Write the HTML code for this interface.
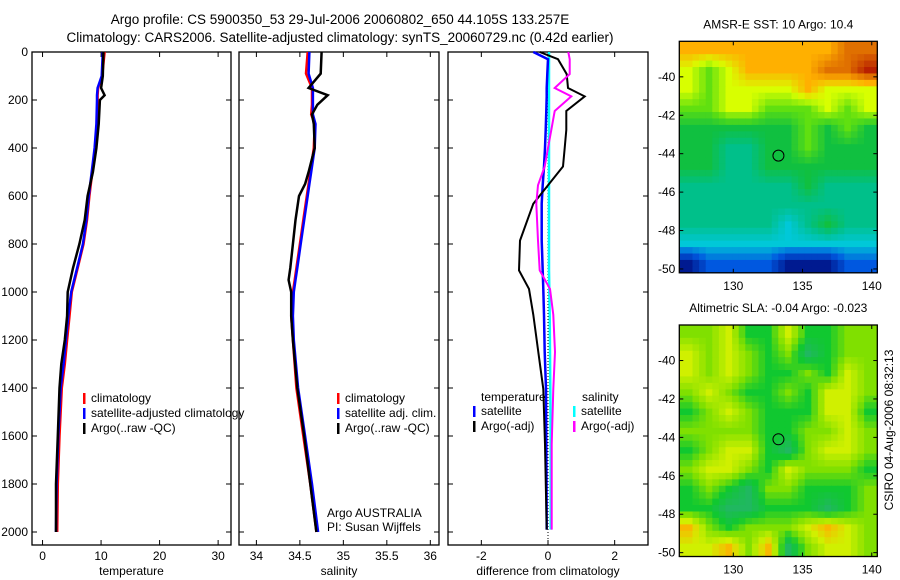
<!DOCTYPE html>
<html><head><meta charset="utf-8"><style>
body{margin:0;background:#fff;}
svg{display:block;font-family:"Liberation Sans",sans-serif;}
</style></head><body>
<svg id="fig" width="900" height="580" viewBox="0 0 900 580">
<text x="340" y="24" font-size="13.5" text-anchor="middle">Argo profile: CS 5900350_53 29-Jul-2006 20060802_650 44.105S 133.257E</text>
<text x="340" y="42" font-size="13.5" text-anchor="middle">Climatology: CARS2006. Satellite-adjusted climatology: synTS_20060729.nc (0.42d earlier)</text>
<g id="plots"></g>
</svg>
<script>
const NS="http://www.w3.org/2000/svg";
const svg=document.getElementById('plots');
// ---- data ----
const tDepth=[0,100,150,180,200,300,400,500,600,700,800,900,1000,1100,1200,1300,1400,1600,1800,2000];
const tArgo=[10.4,10.3,10.0,10.6,9.8,9.6,9.2,8.6,7.7,7.2,6.3,5.2,4.3,4.2,3.8,3.2,2.9,2.6,2.3,2.3];
const tClim=[10.6,10.2,9.5,9.4,9.4,9.3,9.0,8.5,8.0,7.6,7.0,6.0,5.0,4.6,4.2,3.8,3.3,2.9,2.6,2.5];
const tSat=[10.3,10.1,9.4,9.3,9.3,9.2,8.9,8.4,7.9,7.5,6.9,5.9,4.9,4.4,4.0,3.6,3.1,2.7,2.4,2.3];
const sDepth=[0,90,150,180,220,260,300,400,500,550,600,700,800,900,950,1000,1100,1200,1400,1600,1800,2000];
const sArgo=[34.75,34.74,34.6,34.82,34.7,34.64,34.66,34.67,34.6,34.56,34.49,34.45,34.42,34.39,34.37,34.40,34.40,34.42,34.47,34.55,34.62,34.69];
const sClim=[34.59,34.57,34.64,34.64,34.64,34.63,34.67,34.66,34.62,34.6,34.58,34.54,34.5,34.46,34.44,34.42,34.40,34.42,34.46,34.54,34.62,34.69];
const sSat=[34.61,34.60,34.65,34.65,34.65,34.65,34.68,34.67,34.63,34.61,34.59,34.55,34.51,34.47,34.45,34.43,34.42,34.43,34.48,34.56,34.64,34.71];
const dDepth=[0,30,92,150,185,246,325,400,477,555,632,786,910,987,1095,1250,1404,1635,1990];
const dTArgo=[-0.25,0.3,0.56,0.6,1.1,0.55,0.55,0.5,0.45,0,-0.44,-0.84,-0.87,-0.57,-0.44,-0.29,-0.14,-0.09,-0.04];
const dSArgo=[0.61,0.65,0.65,0.2,0.7,0.2,0.1,0,-0.1,-0.3,-0.35,-0.3,-0.25,0.06,0.16,0.21,0.16,0.11,0.11];
const dTSat=[-0.44,0,-0.02,-0.04,-0.04,-0.05,-0.07,-0.09,-0.12,-0.16,-0.19,-0.19,-0.16,-0.14,-0.12,-0.1,-0.06,-0.05,-0.04];
const dSSat=[0.03,0.03,0.03,0.03,0.03,0.03,0.03,0.03,0.03,0.03,0.03,0.03,0.03,0.04,0.05,0.06,0.07,0.08,0.08];
const depthTicks=[0,200,400,600,800,1000,1200,1400,1600,1800,2000];
const tTicks=[0,10,20,30];
const sTicks=[34,34.5,35,35.5,36];
const sTickLabels=['34','34.5','35','35.5','36'];
const dTicks=[-2,0,2];
const sst=[
[7,7,7,7,7,7,7,7,8,8],
[6,5,6,7,7,7,7,8,8,9],
[6,5,6,6,6,6,7,6,6,6],
[5,5,6,6,5,5,5,6,5,6],
[4,4,4,4,4,4,5,4,5,4],
[4,4,3,3,4,4,5,4,4,4],
[4,4,3,3,4,4,4,4,4,4],
[3,3,3,3,3,3,4,3,3,3],
[3,3,3,3,3,3,3,3,3,3],
[3,3,3,3,3,2,3,4,3,3],
[2,2,2,2,2,2,2,2,2,2],
[0,1,1,1,1,0,0,0,1,1]];
const sla=[
[5,5,6,4,4,6,4,4,5,5],
[6,5,6,5,4,5,3,4,5,5],
[6,5,6,5,4,4,5,4,6,5],
[5,6,5,4,4,5,4,6,6,5],
[4,5,6,5,4,4,4,6,6,4],
[5,5,5,5,4,4,5,5,6,5],
[4,5,6,6,4,3,5,6,6,5],
[5,6,6,5,4,6,5,5,5,4],
[4,5,4,3,5,5,4,4,4,5],
[4,4,3,3,4,4,4,3,4,5],
[7,5,4,5,5,5,6,7,6,5],
[6,6,7,5,7,3,5,6,6,5]];
const latTicks=[-40,-42,-44,-46,-48,-50];
const lonTicks=[130,135,140];
const floatLon=133.26, floatLat=-44.1;
const cmapSST=['#001a90','#0058e0','#00c8d8','#00c08a','#10c040','#60e010','#d8ff00','#ffb000','#e07000','#b82000'];
const cmapSLA=['#001a90','#0058e0','#00c8d8','#20b860','#10c830','#80e000','#d0f000','#f8b800','#e07000','#b82000'];

function el(tag,attrs,parent){const e=document.createElementNS(NS,tag);for(const k in attrs)e.setAttribute(k,attrs[k]);(parent||svg).appendChild(e);return e;}
function txt(x,y,s,size,anchor,parent){const t=el('text',{x:x,y:y,'font-size':size,'text-anchor':anchor||'start'},parent);t.textContent=s;return t;}

const Y0=52,Ybot=545;
function yDepth(d){return Y0+d*0.24;}

function panel(name,x0,x1,xmin,xmax,ticks,labels,xlabel,ylabels){
  const g=el('g',{});
  
  
  const sx=v=>x0+(v-xmin)/(xmax-xmin)*(x1-x0);
  el('rect',{x:x0,y:Y0,width:x1-x0,height:Ybot-Y0,fill:'none',stroke:'#000','stroke-width':1.3},g);
  ticks.forEach((t,i)=>{const x=sx(t);
    el('line',{x1:x,x2:x,y1:Ybot,y2:Ybot-5,stroke:'#000'},g);
    el('line',{x1:x,x2:x,y1:Y0,y2:Y0+5,stroke:'#000'},g);
    const l=txt(x,Ybot+15,labels[i],12,'middle',g);
    
    
  });
  depthTicks.forEach(d=>{const y=yDepth(d);
    el('line',{x1:x0,x2:x0+5,y1:y,y2:y,stroke:'#000'},g);
    el('line',{x1:x1,x2:x1-5,y1:y,y2:y,stroke:'#000'},g);
    if(ylabels){const l=txt(x0-4,y+4,String(d),12,'end',g);
      
      }
  });
  const xl=txt((x0+x1)/2,Ybot+30,xlabel,12,'middle',g);
  
  
  return {g,sx};
}
function line(p,depths,vals,color,name,w){
  const pts=depths.map((d,i)=>p.sx(vals[i]).toFixed(1)+','+yDepth(d).toFixed(1)).join(' ');
  const l=el('polyline',{points:pts,fill:'none',stroke:color,'stroke-width':w||2.5},p.g);
  
  
}
function legend(g,x,y,items){
  items.forEach((it,i)=>{
    el('rect',{x:x,y:y+i*15-9,width:2.5,height:11,fill:it[1]},g);
    const t=txt(x+8,y+i*15,it[0],12,'start',g);
    
    
  });
}
// temperature
const p1=panel('temperature-panel',32,231,-1.8,32.2,tTicks,tTicks.map(String),'temperature',true);
line(p1,tDepth,tClim,'#ff0000','temp-climatology-line');
line(p1,tDepth,tSat,'#0000ff','temp-satellite-line');
line(p1,tDepth,tArgo,'#000000','temp-argo-line');
legend(p1.g,83,402,[['climatology','#ff0000'],['satellite-adjusted climatology','#0000ff'],['Argo(..raw -QC)','#000']]);
// salinity
const p2=panel('salinity-panel',239,439,33.8,36.1,sTicks,sTickLabels,'salinity',false);
line(p2,sDepth,sClim,'#ff0000','sal-climatology-line');
line(p2,sDepth,sSat,'#0000ff','sal-satellite-line');
line(p2,sDepth,sArgo,'#000000','sal-argo-line');
legend(p2.g,337,402,[['climatology','#ff0000'],['satellite adj. clim.','#0000ff'],['Argo(..raw -QC)','#000']]);
txt(327,517,'Argo AUSTRALIA',12,'start',p2.g);
txt(327,531,'PI: Susan Wijffels',12,'start',p2.g);
// difference
const p3=panel('difference-panel',448,648,-3,3,dTicks,dTicks.map(String),'difference from climatology',false);
el('line',{x1:p3.sx(0),x2:p3.sx(0),y1:Y0,y2:Ybot,stroke:'#000','stroke-dasharray':'1,2'},p3.g);
line(p3,dDepth,dSSat,'#00ffff','sal-diff-satellite-line');
line(p3,dDepth,dTSat,'#0000ff','temp-diff-satellite-line');
line(p3,dDepth,dTArgo,'#000000','temp-diff-argo-line',2);
line(p3,dDepth,dSArgo,'#ff00ff','sal-diff-argo-line',2);
txt(481,401,'temperature',12,'start',p3.g);
txt(582,401,'salinity',12,'start',p3.g);
legend(p3.g,473,415,[['satellite','#0000ff'],['Argo(-adj)','#000']]);
legend(p3.g,573,415,[['satellite','#00ffff'],['Argo(-adj)','#ff00ff']]);

// maps
function hex(c){return [1,3,5].map(i=>parseInt(c.substr(i,2),16));}
function colorAt(cmap,v){
  const a=Math.max(0,Math.min(cmap.length-1,Math.floor(v))),b=Math.min(cmap.length-1,a+1),f=v-a;
  const ca=hex(cmap[a]),cb=hex(cmap[b]);
  return 'rgb('+ca.map((x,i)=>Math.round(x+(cb[i]-x)*f)).join(',')+')';
}
function sample(data,r,c){
  const rows=data.length,cols=data[0].length;
  r=Math.max(0,Math.min(rows-1,r));c=Math.max(0,Math.min(cols-1,c));
  const r0=Math.floor(r),c0=Math.floor(c),r1=Math.min(rows-1,r0+1),c1=Math.min(cols-1,c0+1);
  const fr=r-r0,fc=c-c0;
  return data[r0][c0]*(1-fr)*(1-fc)+data[r0][c1]*(1-fr)*fc+data[r1][c0]*fr*(1-fc)+data[r1][c1]*fr*fc;
}
function map(name,top,data,cmap,title){
  const L=679.3,R=877.3,bottom=top+231.5;
  const lonMin=126.1,lonMax=140.4,latTop=-38.15,latBot=-50.2;
  const sx=v=>L+(v-lonMin)/(lonMax-lonMin)*(R-L);
  const sy=v=>top+(latTop-v)/(latTop-latBot)*(bottom-top);
  const g=el('g',{});
  
  
  const rows=data.length,cols=data[0].length;
  const NR=36,NC=30;
  const cw=(R-L)/NC,ch=(bottom-top)/NR;
  for(let i=0;i<NR;i++)for(let j=0;j<NC;j++){
    const r=(i+0.5)/NR*rows-0.5,c=(j+0.5)/NC*cols-0.5;
    const v=sample(data,r,c);
    const cell=el('rect',{x:(L+j*cw).toFixed(2),y:(top+i*ch).toFixed(2),width:(cw+0.6).toFixed(2),height:(ch+0.6).toFixed(2),fill:colorAt(cmap,v)},g);
    
    
  }
  el('rect',{x:L,y:top,width:R-L,height:bottom-top,fill:'none',stroke:'#000','stroke-width':1.3},g);
  latTicks.forEach(t=>{const y=sy(t);
    el('line',{x1:L,x2:L+4,y1:y,y2:y,stroke:'#000'},g);
    el('line',{x1:R,x2:R-4,y1:y,y2:y,stroke:'#000'},g);
    txt(L-4,y+4,String(t),12,'end',g);});
  lonTicks.forEach(t=>{const x=sx(t);
    el('line',{x1:x,x2:x,y1:bottom,y2:bottom-4,stroke:'#000'},g);
    el('line',{x1:x,x2:x,y1:top,y2:top+4,stroke:'#000'},g);
    txt(x,bottom+17,String(t),12,'middle',g);});
  const c=el('circle',{cx:sx(floatLon),cy:sy(floatLat),r:5.5,fill:'none',stroke:'#000','stroke-width':1},g);
  
  
  const t=txt((L+R)/2,top-13,title,12,'middle',g);
  
  
}
map('sst-map',41.3,sst,cmapSST,'AMSR-E SST: 10 Argo: 10.4');
map('sla-map',325,sla,cmapSLA,'Altimetric SLA: -0.04 Argo: -0.023');
const v=txt(0,0,'CSIRO 04-Aug-2006 08:32:13',12,'middle');
v.setAttribute('transform','translate(893,430) rotate(-90)');


</script>
</body></html>
